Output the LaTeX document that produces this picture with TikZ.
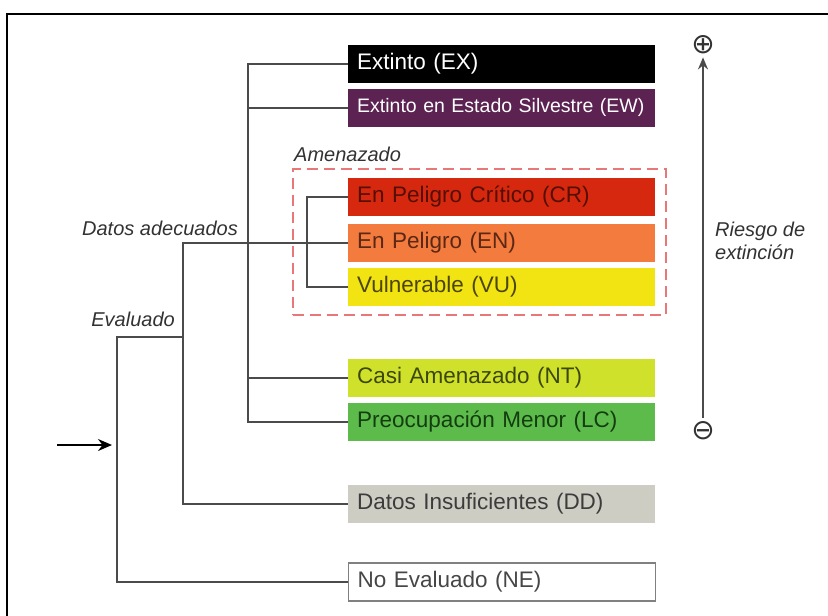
\documentclass[tikz,border=0pt]{standalone}
\usepackage{fontspec}
\setmainfont{Liberation Sans}
\newfontfamily\symfont{DejaVu Sans}
\usetikzlibrary{arrows.meta}

% category colours
\definecolor{cEX}{RGB}{0,0,0}
\definecolor{cEW}{RGB}{92,34,82}
\definecolor{cCR}{RGB}{214,40,14}
\definecolor{cEN}{RGB}{244,123,62}
\definecolor{cVU}{RGB}{242,227,19}
\definecolor{cNT}{RGB}{208,225,44}
\definecolor{cLC}{RGB}{93,187,76}
\definecolor{cDD}{RGB}{205,205,195}
\definecolor{linegray}{RGB}{75,75,75}
\definecolor{labelgray}{RGB}{50,50,50}
\definecolor{dashred}{RGB}{232,120,120}

\tikzset{
  catbox/.style={anchor=west, minimum width=307pt, minimum height=38pt,
    inner xsep=9pt, inner ysep=0pt, text width=289pt, align=left,
    font=\fontsize{22.5}{26}\selectfont},
  conn/.style={draw=linegray, line width=2pt},
  lbl/.style={font=\fontsize{20}{23}\selectfont\itshape, text=labelgray, inner sep=0pt},
  threatframe/.style={draw=dashred, line width=1.8pt, dash pattern=on 11pt off 6pt,
    minimum width=373pt, minimum height=146pt, inner sep=0pt},
  scalesym/.style={font=\symfont\fontsize{28}{30}\selectfont, text=labelgray, inner sep=0pt},
}

\begin{document}
\begin{tikzpicture}[x=1pt, y=-1pt]
  \useasboundingbox (0,0) rectangle (828,616);

  % outer frame (open to the right and bottom)
  \draw[line width=2.5pt] (7,616) -- (7,14) -- (828,14);

  % threatened group frame
  \node[threatframe] (amz) at (479.5,242) {};
  \node[lbl, anchor=west] (amzlbl) at (294,154) {Amenazado};

  % category boxes
  \node[catbox, fill=cEX, text=white] (ex) at (348,63.5) {Extinto (EX)};
  \node[catbox, fill=cEW, text=white, font=\fontsize{19.5}{23}\selectfont] (ew) at (348,107.5) {Extinto en Estado Silvestre (EW)};
  \node[catbox, fill=cCR, text={rgb,255:red,85;green,15;blue,5}] (cr) at (348,197) {En Peligro Crítico (CR)};
  \node[catbox, fill=cEN, text={rgb,255:red,90;green,40;blue,20}] (en) at (348,242.5) {En Peligro (EN)};
  \node[catbox, fill=cVU, text={rgb,255:red,75;green,70;blue,10}] (vu) at (348,287) {Vulnerable (VU)};
  \node[catbox, fill=cNT, text={rgb,255:red,60;green,72;blue,10}] (nt) at (348,377.5) {Casi Amenazado (NT)};
  \node[catbox, fill=cLC, text={rgb,255:red,20;green,62;blue,15}] (lc) at (348,422) {Preocupación Menor (LC)};
  \node[catbox, fill=cDD, text={rgb,255:red,60;green,60;blue,60}] (dd) at (348,504) {Datos Insuficientes (DD)};
  \node[catbox, fill=white, draw=gray, line width=1.2pt, text={rgb,255:red,70;green,70;blue,70}] (ne) at (348,582) {No Evaluado (NE)};

  % branch labels
  \node[lbl, anchor=east] (adeq) at (238,228) {Datos adecuados};
  \node[lbl, anchor=east] (eval) at (175,319) {Evaluado};

  % spine positions of the tree
  \coordinate (spineA) at (248,0);
  \coordinate (spineT) at (307,0);
  \coordinate (spineD) at (183,0);
  \coordinate (spineE) at (117,0);
  \coordinate (evalrow) at (0,337);

  % adequate data: main spine
  \draw[conn] (ex.west) -- (ex.west -| spineA) -- (lc.west -| spineA) -- (lc.west);
  \draw[conn] (ew.west) -- (ew.west -| spineA);
  \draw[conn] (nt.west) -- (nt.west -| spineA);

  % threatened bracket
  \draw[conn] (cr.west) -- (cr.west -| spineT) -- (vu.west -| spineT) -- (vu.west);

  % evaluated: adequate vs. insufficient data
  \draw[conn] (en.west) -- (en.west -| spineD) -- (dd.west -| spineD) -- (dd.west);

  % evaluated vs. not evaluated
  \draw[conn] (evalrow -| spineD) -- (evalrow -| spineE) -- (ne.west -| spineE) -- (ne.west);

  % entry arrow
  \coordinate (entry0) at (57,445);
  \coordinate (entry1) at (117,445);
  \draw[line width=1.8pt, -{Stealth[length=14pt, width=12pt]}, shorten >=5pt] (entry0) -- (entry1);

  % extinction risk scale
  \node[scalesym] (plus) at (703,45) {⊕};
  \node[scalesym] (minus) at (703,431) {⊖};
  \draw[draw=linegray, line width=1.8pt, -{Stealth[length=12pt, width=10pt]}, shorten <=4pt, shorten >=3pt] (minus) -- (plus);
  \node[lbl, anchor=west, align=left] (risk) at (715,241) {Riesgo de\\extinción};
\end{tikzpicture}
\end{document}
